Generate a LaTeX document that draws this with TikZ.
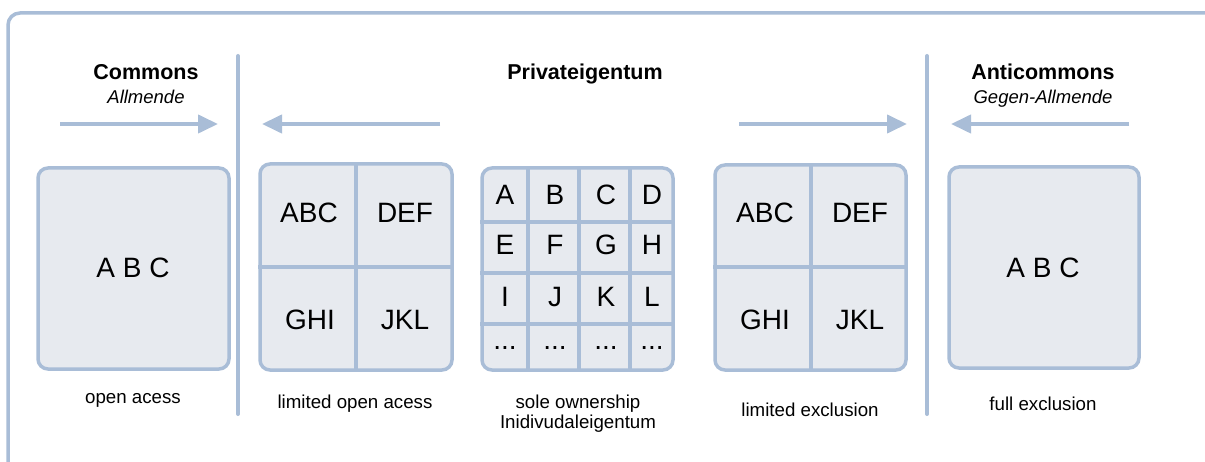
\documentclass[tikz,border=0pt]{standalone}
\usepackage{fontspec}
\setmainfont{Liberation Sans}
\usetikzlibrary{arrows.meta}
\definecolor{lineblue}{RGB}{169,189,215}
\definecolor{boxfill}{RGB}{231,234,239}
\newcommand{\mydots}{...}
\begin{document}
\begin{tikzpicture}[x=1pt,y=-1pt,
  frame/.style={draw=lineblue, line width=3.5pt, rounded corners=12pt},
  panel/.style={draw=lineblue, line width=3.5pt, fill=boxfill, rounded corners=10pt, inner sep=0pt},
  divider/.style={draw=lineblue, line width=4pt, line cap=round},
  gridline/.style={draw=lineblue, line width=4pt},
  flow/.style={draw=lineblue, line width=4pt, -{Triangle[length=20pt,width=18pt]}},
  title/.style={font=\fontsize{21.5}{24}\selectfont\bfseries, inner sep=0pt, anchor=base},
  subtitle/.style={font=\fontsize{18.5}{22}\selectfont\itshape, inner sep=0pt, anchor=base},
  caption/.style={font=\fontsize{18.7}{20}\selectfont, inner sep=0pt, align=center},
  cell/.style={font=\fontsize{28}{30}\selectfont, inner sep=0pt},
]
\useasboundingbox (0,0) rectangle (1205,462);
\clip (0,0) rectangle (1205,462);
\fill[white] (0,0) rectangle (1205,462);
\draw[frame] (8,13) rectangle (1228,482);

% dividers
\coordinate (d1t) at (238,56); \coordinate (d1b) at (238,414);
\coordinate (d2t) at (927,56); \coordinate (d2b) at (927,414);
\draw[divider] (d1t) -- (d1b);
\draw[divider] (d2t) -- (d2b);

% titles
\node[title] (tc) at (146,80) {Commons};
\node[subtitle] (sc) at (146,104) {Allmende};
\node[title] (tp) at (585,80) {Privateigentum};
\node[title] (ta) at (1043,80) {Anticommons};
\node[subtitle] (sa) at (1043,104) {Gegen-Allmende};

% arrows
\coordinate (a1s) at (60,124); \coordinate (a1e) at (218,124);
\coordinate (a2s) at (440,124); \coordinate (a2e) at (262,124);
\coordinate (a3s) at (739,124); \coordinate (a3e) at (907,124);
\coordinate (a4s) at (1129,124); \coordinate (a4e) at (951,124);
\draw[flow] (a1s) -- (a1e);
\draw[flow] (a2s) -- (a2e);
\draw[flow] (a3s) -- (a3e);
\draw[flow] (a4s) -- (a4e);

% panel 1
\node[panel, minimum width=191pt, minimum height=201pt] (p1) at (133.5,268.5) {};
\node[cell] (p1t) at (133,268) {A B C};

% panel 2
\node[panel, minimum width=192pt, minimum height=206pt] (p2) at (356,267) {};
\draw[gridline] (p2.north) -- (p2.south);
\draw[gridline] (p2.west) -- (p2.east);
\node[cell] (p2a) at (309,213) {ABC};
\node[cell] (p2b) at (405,213) {DEF};
\node[cell] (p2c) at (310,320) {GHI};
\node[cell] (p2d) at (405,320) {JKL};

% panel 3 (grid)
\node[panel, minimum width=191pt, minimum height=202pt] (p3) at (577.5,269) {};
\foreach \x in {528,579,630} {
  \draw[gridline] (\x,0 |- p3.north) -- (\x,0 |- p3.south);
}
\foreach \y in {222,273,324} {
  \draw[gridline] (p3.west |- 0,\y) -- (p3.east |- 0,\y);
}
\foreach \t [count=\i from 0] in {A,B,C,D,E,F,G,H,I,J,K,L,\mydots,\mydots,\mydots,\mydots} {
  \pgfmathtruncatemacro{\c}{mod(\i,4)}
  \pgfmathtruncatemacro{\r}{div(\i,4)}
  \pgfmathsetmacro{\cx}{{505,555,606,652}[\c]}
  \pgfmathsetmacro{\cy}{{195,245,297,348}[\r]}
  \node[cell] (g\i) at (\cx,\cy) {\t};
}

% panel 4
\node[panel, minimum width=191pt, minimum height=205pt] (p4) at (810.5,267.5) {};
\draw[gridline] (p4.north) -- (p4.south);
\draw[gridline] (p4.west) -- (p4.east);
\node[cell] (p4a) at (765,213) {ABC};
\node[cell] (p4b) at (860,213) {DEF};
\node[cell] (p4c) at (765,320) {GHI};
\node[cell] (p4d) at (860,320) {JKL};

% panel 5
\node[panel, minimum width=190pt, minimum height=201pt] (p5) at (1044,267.5) {};
\node[cell] (p5t) at (1043,268) {A B C};

% captions
\node[caption] (c1) at (133,400) {open acess};
\node[caption] (c2) at (355,404) {limited open acess};
\node[caption] (c3) at (578,414) {sole ownership\\Inidivudaleigentum};
\node[caption] (c4) at (810,410) {limited exclusion};
\node[caption] (c5) at (1043,404) {full exclusion};
\end{tikzpicture}
\end{document}
